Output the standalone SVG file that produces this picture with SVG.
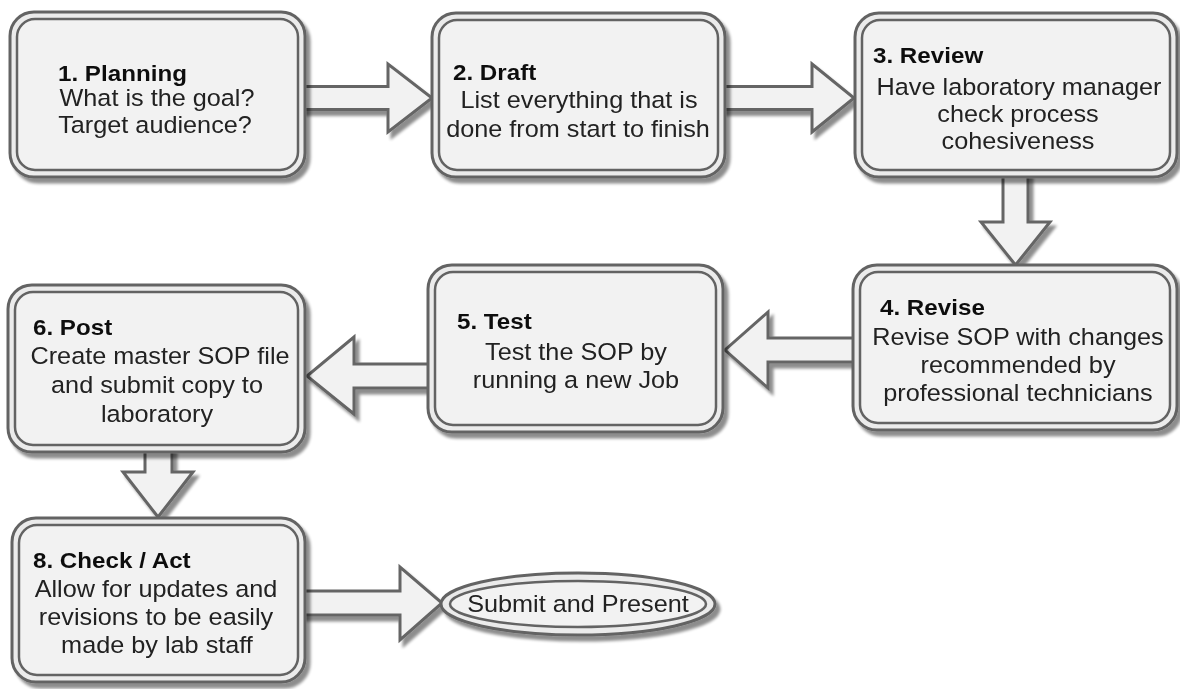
<svg xmlns="http://www.w3.org/2000/svg" width="1180" height="689" viewBox="0 0 1180 689">
<defs>
<filter id="sh" x="-10%" y="-10%" width="130%" height="140%">
<feGaussianBlur in="SourceAlpha" stdDeviation="1.8"/>
<feOffset dx="4" dy="5" result="o"/>
<feComponentTransfer><feFuncA type="linear" slope="0.45"/></feComponentTransfer>
<feMerge><feMergeNode/><feMergeNode in="SourceGraphic"/></feMerge>
</filter>
<style>
.o{fill:#ebebeb;stroke:#636363;stroke-width:3}
.i{fill:#f2f2f2;stroke:#636363;stroke-width:2.5}
.ar{fill:#f2f2f2;stroke:#656565;stroke-width:3;stroke-linejoin:miter}
.t{font-family:"Liberation Sans",Arial,sans-serif;font-weight:bold;font-size:22.5px;fill:#111}
.b{font-family:"Liberation Sans",Arial,sans-serif;font-size:23.5px;fill:#222;text-anchor:middle}
</style>
</defs>
<rect width="1180" height="689" fill="#ffffff"/>
<g id="connectors" filter="url(#sh)">
<polygon class="ar" points="298,86.5 388,86.5 388,64 432,98 388,132 388,109.5 298,109.5"/>
<polygon class="ar" points="718,86.5 812,86.5 812,64 854,98 812,132 812,109.5 718,109.5"/>
<polygon class="ar" points="1003,170 1028,170 1028,222 1050,222 1015.5,265 981,222 1003,222"/>
<polygon class="ar" points="860,338 768,338 768,312 725,350 768,388 768,362 860,362"/>
<polygon class="ar" points="438,364 354,364 354,337 307,376 354,414 354,388 438,388"/>
<polygon class="ar" points="145,445 172,445 172,472 193,472 158,517 123,472 145,472"/>
<polygon class="ar" points="300,591 400,591 400,567 442,603 400,640 400,615 300,615"/>
</g>
<g id="n1" filter="url(#sh)">
<rect class="o" x="10" y="12" width="295" height="165" rx="24"/>
<rect class="i" x="17" y="19" width="281" height="151" rx="18"/>
<text class="t" transform="translate(58,81) scale(1.075,1)">1. Planning</text>
<text class="b" transform="translate(157,106) scale(1.075,1)">What is the goal?</text>
<text class="b" transform="translate(155,133) scale(1.075,1)">Target audience?</text>
</g>
<g id="n2" filter="url(#sh)">
<rect class="o" x="432" y="13" width="293" height="164" rx="24"/>
<rect class="i" x="439" y="20" width="279" height="150" rx="18"/>
<text class="t" transform="translate(453,80) scale(1.075,1)">2. Draft</text>
<text class="b" transform="translate(579,108) scale(1.075,1)">List everything that is</text>
<text class="b" transform="translate(578,137) scale(1.075,1)">done from start to finish</text>
</g>
<g id="n3" filter="url(#sh)">
<rect class="o" x="855" y="13" width="322" height="164" rx="24"/>
<rect class="i" x="862" y="20" width="308" height="150" rx="18"/>
<text class="t" transform="translate(873,63) scale(1.075,1)">3. Review</text>
<text class="b" transform="translate(1019,95) scale(1.075,1)">Have laboratory manager</text>
<text class="b" transform="translate(1018,122) scale(1.075,1)">check process</text>
<text class="b" transform="translate(1018,149) scale(1.075,1)">cohesiveness</text>
</g>
<g id="n4" filter="url(#sh)">
<rect class="o" x="853" y="265" width="324" height="165" rx="24"/>
<rect class="i" x="860" y="272" width="310" height="151" rx="18"/>
<text class="t" transform="translate(880,315) scale(1.075,1)">4. Revise</text>
<text class="b" transform="translate(1018,345) scale(1.075,1)">Revise SOP with changes</text>
<text class="b" transform="translate(1018,373) scale(1.075,1)">recommended by</text>
<text class="b" transform="translate(1018,401) scale(1.075,1)">professional technicians</text>
</g>
<g id="n5" filter="url(#sh)">
<rect class="o" x="428" y="265" width="295" height="167" rx="24"/>
<rect class="i" x="435" y="272" width="281" height="153" rx="18"/>
<text class="t" transform="translate(457,329) scale(1.075,1)">5. Test</text>
<text class="b" transform="translate(576,360) scale(1.075,1)">Test the SOP by</text>
<text class="b" transform="translate(576,388) scale(1.075,1)">running a new Job</text>
</g>
<g id="n6" filter="url(#sh)">
<rect class="o" x="8" y="285" width="297" height="167" rx="24"/>
<rect class="i" x="15" y="292" width="283" height="153" rx="18"/>
<text class="t" transform="translate(33,335) scale(1.075,1)">6. Post</text>
<text class="b" transform="translate(160,364) scale(1.075,1)">Create master SOP file</text>
<text class="b" transform="translate(157,393) scale(1.075,1)">and submit copy to</text>
<text class="b" transform="translate(157,422) scale(1.075,1)">laboratory</text>
</g>
<g id="n8" filter="url(#sh)">
<rect class="o" x="12" y="518" width="293" height="164" rx="24"/>
<rect class="i" x="19" y="525" width="279" height="150" rx="18"/>
<text class="t" transform="translate(33,568) scale(1.075,1)">8. Check / Act</text>
<text class="b" transform="translate(156,597) scale(1.075,1)">Allow for updates and</text>
<text class="b" transform="translate(156,625) scale(1.075,1)">revisions to be easily</text>
<text class="b" transform="translate(157,653) scale(1.075,1)">made by lab staff</text>
</g>
<g id="end" filter="url(#sh)">
<ellipse class="o" cx="578" cy="604" rx="137" ry="31"/>
<ellipse class="i" cx="578" cy="604" rx="128" ry="23"/>
<text class="b" transform="translate(578,612) scale(1.075,1)">Submit and Present</text>
</g>
</svg>
